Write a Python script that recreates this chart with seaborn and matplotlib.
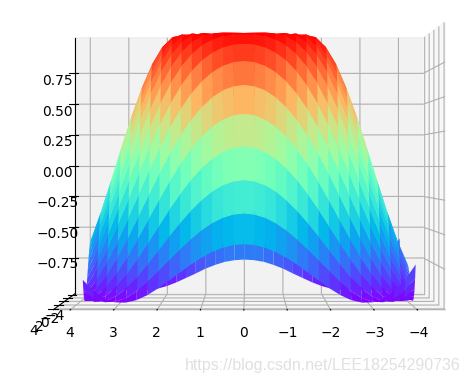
import numpy as np
import seaborn as sns
import matplotlib
matplotlib.use('Agg')
import matplotlib.pyplot as plt

# grid positions, 0 to 4 (the surface is mirrored about both axes)
grid_half = [0, 0.25, 0.5, 0.75, 1, 1.25, 1.5, 1.75, 2, 2.25, 2.5, 2.75, 3, 3.25, 3.5, 3.75, 4]

# heights read for one quadrant, one list per row
z_row_00 = [0, .247, .479, .682, .841, .949, .997, .984, .909, .778, .598, .382, .141, -.108, -.351, -.572, -.757]
z_row_01 = [.247, .346, .530, .711, .858, .957, .999, .981, .903, .770, .588, .373, .131, -.118, -.360, -.579, -.762]
z_row_02 = [.479, .530, .650, .784, .900, .975, 1.0, .969, .882, .742, .558, .340, .100, -.146, -.384, -.599, -.775]
z_row_03 = [.682, .711, .784, .873, .949, .994, .994, .945, .844, .696, .507, .288, .049, -.192, -.424, -.630, -.800]
z_row_04 = [.841, .858, .900, .949, .988, 1.0, .973, .903, .787, .628, .433, .214, -.021, -.256, -.478, -.674, -.830]
z_row_05 = [.949, .957, .975, .994, 1.0, .981, .928, .836, .706, .537, .340, .120, -.108, -.334, -.544, -.724, -.869]
z_row_06 = [.997, .999, 1.0, .994, .973, .928, .853, .742, .598, .424, .224, .009, -.211, -.424, -.618, -.782, -.905]
z_row_07 = [.984, .981, .969, .945, .903, .836, .742, .619, .465, .288, .090, -.118, -.325, -.522, -.696, -.839, -.941]
z_row_08 = [.909, .903, .882, .844, .787, .706, .598, .465, .308, .131, -.060, -.256, -.449, -.624, -.775, -.895, -.971]
z_row_09 = [.778, .770, .742, .696, .628, .537, .424, .288, .131, -.040, -.220, -.400, -.572, -.724, -.852, -.944, -.993]
z_row_10 = [.598, .588, .558, .507, .433, .340, .224, .090, -.060, -.220, -.384, -.544, -.691, -.818, -.917, -.980, -1.0]
z_row_11 = [.382, .373, .340, .288, .214, .120, .009, -.118, -.256, -.400, -.544, -.680, -.800, -.898, -.966, -.998, -.990]
z_row_12 = [.141, .131, .100, .049, -.021, -.108, -.211, -.325, -.449, -.572, -.691, -.800, -.891, -.958, -.995, -.996, -.959]
z_row_13 = [-.108, -.118, -.146, -.192, -.256, -.334, -.424, -.522, -.624, -.724, -.818, -.898, -.958, -.993, -.998, -.969, -.905]
z_row_14 = [-.351, -.360, -.384, -.424, -.478, -.544, -.618, -.696, -.775, -.852, -.917, -.966, -.995, -.998, -.972, -.913, -.825]
z_row_15 = [-.572, -.579, -.599, -.630, -.674, -.724, -.782, -.839, -.895, -.944, -.980, -.998, -.996, -.969, -.913, -.832, -.720]
z_row_16 = [-.757, -.762, -.775, -.800, -.830, -.869, -.905, -.941, -.971, -.993, -1.0, -.990, -.959, -.905, -.825, -.720, -.586]

watermark = 'https://blog.csdn.net/LEE18254290736'

quadrant = np.array([z_row_00, z_row_01, z_row_02, z_row_03, z_row_04, z_row_05, z_row_06,
                     z_row_07, z_row_08, z_row_09, z_row_10, z_row_11, z_row_12, z_row_13,
                     z_row_14, z_row_15, z_row_16])

# mirror the quadrant, the grid runs from -4 up to 3.75 on both axes
half = np.array(grid_half)
grid = np.concatenate([-half[:0:-1], half[:-1]])
Z = np.vstack([quadrant[:0:-1], quadrant[:-1]])
Z = np.hstack([Z[:, :0:-1], Z[:, :-1]])
X, Y = np.meshgrid(grid, grid)

rainbow = sns.color_palette('rainbow', as_cmap=True)

fig = plt.figure(figsize=(4.7, 3.83), dpi=100)
ax = fig.add_axes([-0.087, -0.19, 1.202, 1.475], projection='3d')
ax.set_box_aspect((4, 3.9, 2.94))
ax.plot_surface(X, Y, Z, rstride=1, cstride=1, cmap=rainbow)
# just under 90 so the side wall lands on the right
ax.view_init(elev=0, azim=89.99)
ax.set_xlim(-4.645, 4.395, view_margin=0)
ax.set_ylim(-4.645, 4.395, view_margin=0)
ax.set_zlim(-1.04, 1.04, view_margin=0)
ax.set_xticks([-4, -3, -2, -1, 0, 1, 2, 3, 4])
ax.set_yticks([-4, -2, 0, 2, 4])
ax.set_zticks([-0.75, -0.5, -0.25, 0, 0.25, 0.5, 0.75])
# the front edge of the floor shows grey, not black
ax.xaxis.line.set_color('#b0b0b0')

fig.text(0.98, 0.045, watermark, ha='right', va='center', fontsize=11.5,
         family='Liberation Sans', color='#e0e0e0')

fig.savefig('out.png', dpi=100)
